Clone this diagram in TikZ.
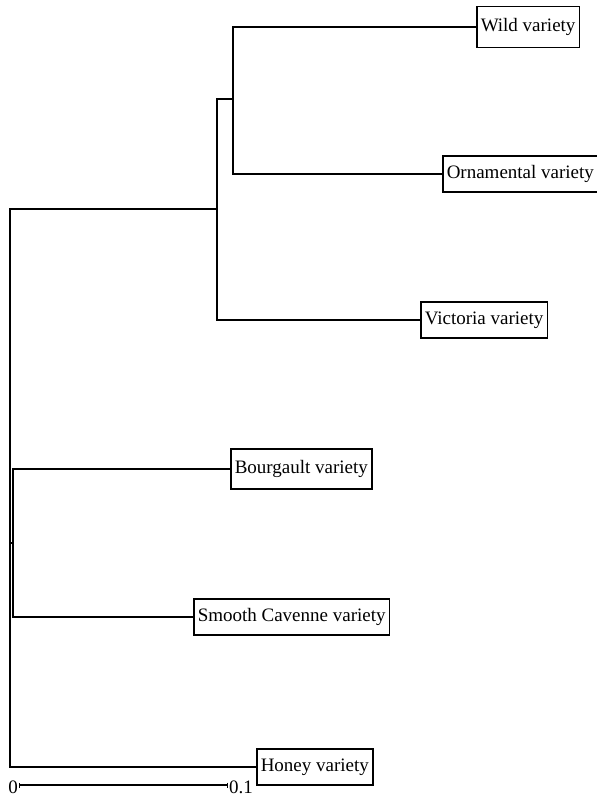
\documentclass[tikz,border=0pt]{standalone}
\usepackage{fontspec}
\setmainfont{Liberation Serif}
\usetikzlibrary{arrows.meta}
\begin{document}
\begin{tikzpicture}[
    x=1pt, y=-1pt,
    leaf/.style={draw, rectangle, line width=1.5pt, minimum height=36pt, inner xsep=4pt, anchor=west, font=\fontsize{19}{22}\selectfont},
    branch/.style={line width=1.8pt},
    scalelabel/.style={font=\fontsize{19}{22}\selectfont, inner sep=0pt}
]
  \useasboundingbox (0,0) rectangle (597,796);

  % Hojas del arbol
  \node[leaf, minimum height=41pt] (wild) at (476,27) {Wild variety};
  \node[leaf] (orn) at (442,174) {Ornamental variety};
  \node[leaf] (vic) at (420,320) {Victoria variety};
  \node[leaf, minimum height=40pt] (bou) at (230,469) {Bourgault variety};
  \node[leaf] (smo) at (193,617) {Smooth Cavenne variety};
  \node[leaf] (hon) at (256,767) {Honey variety};

  % Nodos internos
  \coordinate (n1) at (233,99);
  \coordinate (n2) at (217,209);
  \coordinate (n3) at (13,543);
  \coordinate (n0) at (10,543);

  % Ramas
  \draw[branch] (wild.west) -| (n1) |- (orn.west);
  \draw[branch] (n1) -| (n2) |- (vic.west);
  \draw[branch] (bou.west) -| (n3) |- (smo.west);
  \draw[branch] (n2) -| (n0) |- (hon.west);
  \draw[branch] (n0) -- (n3);

  % Escala
  \coordinate (b0) at (19,785);
  \coordinate (b1) at (228,785);
  \draw[line width=1.2pt, {Bar[width=5pt]}-{Bar[width=5pt]}] (b0) -- (b1);
  \node[scalelabel, anchor=base east] (s0) at ([xshift=-1pt]19,793) {0};
  \node[scalelabel, anchor=base west] (s1) at ([xshift=1pt]228,793) {0.1};

\end{tikzpicture}
\end{document}
